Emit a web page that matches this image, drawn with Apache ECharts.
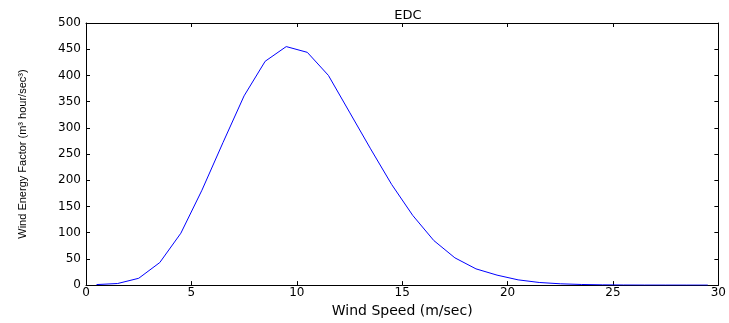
<!DOCTYPE html>
<html>
<head>
<meta charset="utf-8">
<title>EDC</title>
<script src="https://cdn.jsdelivr.net/npm/echarts@6/dist/echarts.min.js"></script>
<style>
  html, body { margin: 0; padding: 0; background: #fff; }
  #chart { width: 729px; height: 323px; }
</style>
</head>
<body>
<div id="chart"></div>
<script>
// wind speed bins (m/sec) and energy factor
var windSpeed = [0.5, 1.5, 2.5, 3.5, 4.5, 5.5, 6.5, 7.5, 8.5, 9.5,
                 10.5, 11.5, 12.5, 13.5, 14.5, 15.5, 16.5, 17.5, 18.5, 19.5,
                 20.5, 21.5, 22.5, 23.5, 24.5, 25.5, 26.5, 27.5, 28.5, 29.5];
var edc = [1, 3, 13, 43, 99, 181, 272, 361, 427, 455,
           444, 400, 330, 260, 192, 133, 85, 52, 31, 19,
           10, 5, 2.5, 1.2, 0.5, 0.2, 0.1, 0.05, 0.02, 0.01];
var xTicks = [0, 5, 10, 15, 20, 25, 30];
var yTicks = [0, 50, 100, 150, 200, 250, 300, 350, 400, 450, 500];

var points = windSpeed.map(function (x, i) { return [x, edc[i]]; });

var font = 'DejaVu Sans, Verdana, sans-serif';
var lineStyle = { color: '#000', width: 1 };

function xAxisBase(pos, showLabel) {
  return {
    type: 'value', position: pos,
    min: xTicks[0], max: xTicks[xTicks.length - 1], interval: 5,
    axisLine: { show: true, onZero: false, lineStyle: lineStyle },
    axisTick: { show: true, inside: true, length: 4, lineStyle: lineStyle },
    axisLabel: { show: showLabel, color: '#000', fontFamily: font, fontSize: 12, margin: 2 },
    splitLine: { show: false }
  };
}
function yAxisBase(pos, showLabel) {
  return {
    type: 'value', position: pos,
    min: yTicks[0], max: yTicks[yTicks.length - 1], interval: 50,
    axisLine: { show: true, onZero: false, lineStyle: lineStyle },
    axisTick: { show: true, inside: true, length: 4, lineStyle: lineStyle },
    axisLabel: { show: showLabel, color: '#000', fontFamily: font, fontSize: 12, margin: 5 },
    splitLine: { show: false }
  };
}

var xBottom = xAxisBase('bottom', true);
xBottom.name = 'Wind Speed (m/sec)';
xBottom.nameLocation = 'middle';
xBottom.nameGap = 15;
xBottom.nameTextStyle = { color: '#000', fontFamily: font, fontSize: 14 };

var yLeft = yAxisBase('left', true);
yLeft.name = 'Wind Energy Factor (m³ hour/sec³)';
yLeft.nameLocation = 'middle';
yLeft.nameGap = 58;
yLeft.nameTextStyle = { color: '#000', fontFamily: 'Liberation Sans Narrow, Liberation Sans, sans-serif', fontSize: 11 };

var myChart = echarts.init(document.getElementById('chart'), null, { renderer: 'canvas' });
myChart.setOption({
  animation: false,
  backgroundColor: '#fff',
  title: {
    text: 'EDC', left: 403, top: 4, textAlign: 'center',
    textStyle: { color: '#000', fontFamily: font, fontSize: 13, fontWeight: 'normal' }
  },
  grid: { left: 86, top: 23, right: 7, bottom: 34 },
  xAxis: [xBottom, xAxisBase('top', false)],
  yAxis: [yLeft, yAxisBase('right', false)],
  series: [{
    type: 'line',
    xAxisIndex: 0, yAxisIndex: 0,
    data: points,
    showSymbol: false,
    lineStyle: { color: '#0000ff', width: 1 }
  }]
});
</script>
</body>
</html>
